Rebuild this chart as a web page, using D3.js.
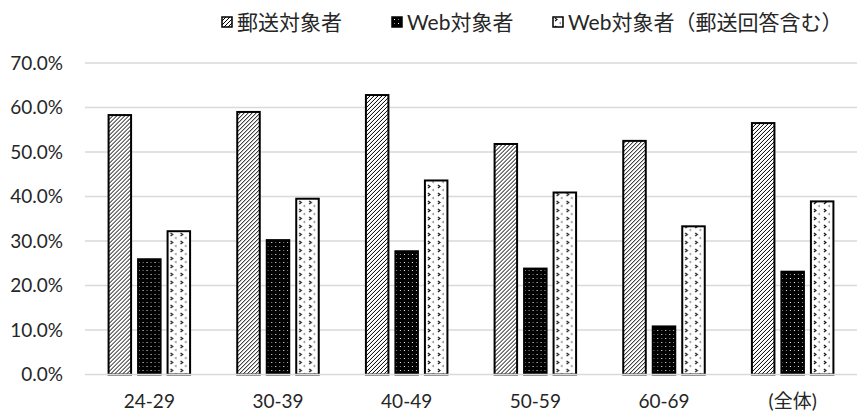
<!DOCTYPE html>
<html>
<head>
<meta charset="utf-8">
<script src="https://cdn.jsdelivr.net/npm/d3@7"></script>
<style>
  html, body { margin: 0; padding: 0; background: #fff; }
  svg { display: block; }
  text { font-family: "Lato", "Noto Sans CJK JP", sans-serif; fill: #262626; }
</style>
</head>
<body>
<svg id="chart" width="858" height="416"></svg>
<script>
// Response rates by age group
const categories = ["24-29", "30-39", "40-49", "50-59", "60-69", "(全体)"];
const seriesNames = ["郵送対象者", "Web対象者", "Web対象者（郵送回答含む）"];
const mailValues    = [58.3, 59.0, 62.8, 51.8, 52.5, 56.5];
const webValues     = [25.9, 30.2, 27.7, 23.8, 10.8, 23.1];
const webMailValues = [32.2, 39.5, 43.6, 40.9, 33.3, 38.9];
const yTicks = [0, 10, 20, 30, 40, 50, 60, 70];

const seriesValues = [mailValues, webValues, webMailValues];
const patternIds = ["pat-hatch", "pat-dots", "pat-confetti"];

const svg = d3.select("#chart");
const margin = { left: 85, right: 1, top: 63, bottom: 41.5 };
const W = 858, H = 416;

// Fill patterns
const defs = svg.append("defs");

const hatch = defs.append("pattern")
  .attr("id", "pat-hatch").attr("patternUnits", "userSpaceOnUse")
  .attr("width", 4).attr("height", 4);
hatch.append("rect").attr("width", 4).attr("height", 4).attr("fill", "#fff");
hatch.append("path")
  .attr("d", "M-1,1 L1,-1 M0,4 L4,0 M3,5 L5,3")
  .attr("stroke", "#000").attr("stroke-width", 1);

const dots = defs.append("pattern")
  .attr("id", "pat-dots").attr("patternUnits", "userSpaceOnUse")
  .attr("width", 8).attr("height", 8);
dots.append("rect").attr("width", 8).attr("height", 8).attr("fill", "#000");
dots.append("rect").attr("x", 2).attr("y", 2).attr("width", 1).attr("height", 1).attr("fill", "#fff");
dots.append("rect").attr("x", 6).attr("y", 6).attr("width", 1).attr("height", 1).attr("fill", "#fff");
dots.append("rect").attr("x", 6).attr("y", 2).attr("width", 1).attr("height", 1).attr("fill", "#888");
dots.append("rect").attr("x", 2).attr("y", 6).attr("width", 1).attr("height", 1).attr("fill", "#888");

const conf = defs.append("pattern")
  .attr("id", "pat-confetti").attr("patternUnits", "userSpaceOnUse")
  .attr("width", 10).attr("height", 8);
conf.append("rect").attr("width", 10).attr("height", 8).attr("fill", "#fff");
conf.append("path").attr("d", "M2,1 L4,2.5 L2,4").attr("fill", "none")
  .attr("stroke", "#111").attr("stroke-width", 1.2);
conf.append("path").attr("d", "M8,5 L6.5,6 L8,7").attr("fill", "none")
  .attr("stroke", "#777").attr("stroke-width", 0.9);

// Scales
const x0 = d3.scaleBand().domain(categories)
  .range([margin.left, W - margin.right]).paddingInner(0).paddingOuter(0);
const groupW = 81.5;
const x1 = d3.scaleBand().domain(d3.range(seriesNames.length))
  .range([0, groupW]).paddingInner(0.237).paddingOuter(0);
const y = d3.scaleLinear().domain([0, 70]).range([H - margin.bottom, margin.top]);

// Gridlines
svg.append("g").selectAll("line").data(yTicks.filter(d => d > 0)).join("line")
  .attr("x1", margin.left).attr("x2", W - margin.right)
  .attr("y1", d => y(d)).attr("y2", d => y(d))
  .attr("stroke", "#d9d9d9").attr("stroke-width", 1.3);

// Y axis labels
const yAxis = d3.axisLeft(y).tickValues(yTicks)
  .tickFormat(d => d.toFixed(1) + "%").tickSize(0).tickPadding(22);
const gy = svg.append("g").attr("transform", `translate(${margin.left},0)`).call(yAxis);
gy.select(".domain").remove();
gy.selectAll("text").attr("font-size", 19).attr("fill", "#262626")
  .style("font-family", "Lato, 'Noto Sans CJK JP', sans-serif");

// Bars
const groups = svg.append("g").selectAll("g").data(categories).join("g")
  .attr("transform", d => `translate(${x0(d) + (x0.bandwidth() - groupW) / 2},0)`);

groups.selectAll("rect")
  .data((c, i) => seriesValues.map((vals, s) => ({ s, v: vals[i] })))
  .join("rect")
  .attr("x", d => x1(d.s))
  .attr("width", x1.bandwidth())
  .attr("y", d => y(d.v))
  .attr("height", d => y(0) - y(d.v))
  .attr("fill", d => `url(#${patternIds[d.s]})`)
  .attr("stroke", "#000").attr("stroke-width", 2);

// X axis line and labels
svg.append("line")
  .attr("x1", margin.left).attr("x2", W - margin.right)
  .attr("y1", y(0)).attr("y2", y(0))
  .attr("stroke", "#d9d9d9").attr("stroke-width", 1.5);

const xAxis = d3.axisBottom(x0).tickSize(0).tickPadding(20);
const gx = svg.append("g").attr("transform", `translate(0,${y(0)})`).call(xAxis);
gx.select(".domain").remove();
gx.selectAll("text").attr("font-size", 19).attr("fill", "#262626")
  .style("font-family", "Lato, 'Noto Sans CJK JP', sans-serif");

// Legend
const legendX = [222, 392, 553];
const legend = svg.append("g").selectAll("g").data(seriesNames).join("g")
  .attr("transform", (d, i) => `translate(${legendX[i]},17)`);
legend.append("rect")
  .attr("width", 10).attr("height", 10)
  .attr("fill", (d, i) => `url(#${patternIds[i]})`)
  .attr("stroke", "#000").attr("stroke-width", 1.5);
legend.append("text")
  .attr("x", 15).attr("y", 5).attr("dy", "0.36em")
  .attr("font-size", 21)
  .text(d => d);
</script>
</body>
</html>
